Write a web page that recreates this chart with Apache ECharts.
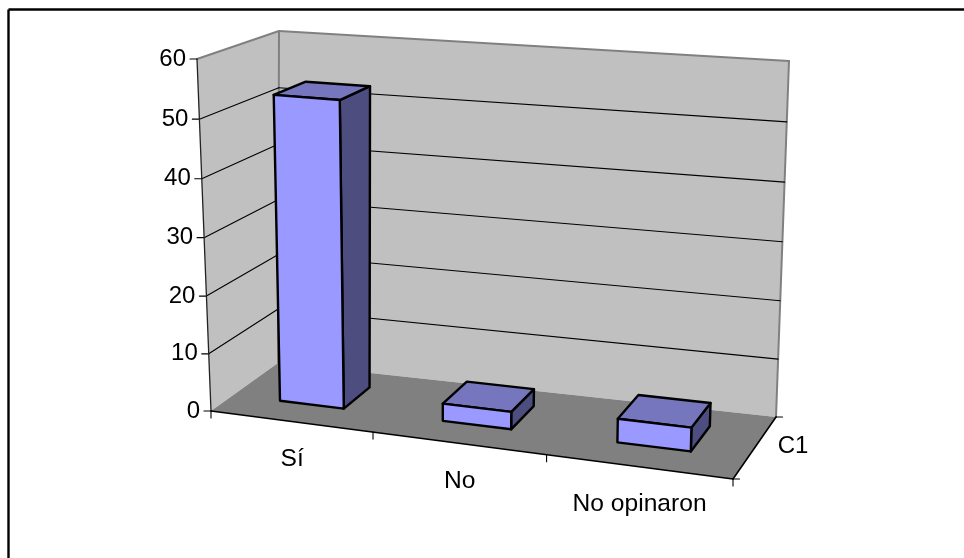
<!DOCTYPE html>
<html>
<head>
<meta charset="utf-8">
<style>html,body{margin:0;padding:0;background:#fff}#c{width:964px;height:558px}</style>
<script src="https://cdn.jsdelivr.net/npm/echarts@6/dist/echarts.min.js"></script>
</head>
<body>
<div id="c"></div>
<script>
const categories = ['Sí', 'No', 'No opinaron'];
const seriesName = 'C1';
const values = [53, 3, 4];
const valueTicks = [0, 10, 20, 30, 40, 50, 60];

// Box corners of the 3D scene: F/B = front/back, L/R = left/right, 0/1 = floor/ceiling
const box = {
  FL0: [211, 411], FR0: [733, 479], BL0: [278, 363], BR0: [776, 417],
  FL1: [197, 59],  FR1: [744, 102], BL1: [279, 31],  BR1: [789, 61]
};
const lerp = (a, b, t) => [a[0] + (b[0] - a[0]) * t, a[1] + (b[1] - a[1]) * t];
function project(u, d, h) {
  const f0 = lerp(box.FL0, box.FR0, u), b0 = lerp(box.BL0, box.BR0, u);
  const f1 = lerp(box.FL1, box.FR1, u), b1 = lerp(box.BL1, box.BR1, u);
  return lerp(lerp(f0, b0, d), lerp(f1, b1, d), h);
}
// Foreshortening along each of the three directions
const warpU = t => 0.9 * t / (1 - 0.1 * t);
const warpD = t => 1.28 * t / (1 + 0.28 * t);
const warpH = t => 0.97 * t / (1 - 0.03 * t);
function norm(params, pt) {
  const r = params.coordSys;
  return [(pt[0] - r.x) / r.width, (r.y + r.height - pt[1]) / r.height];
}
const FONT = { fontFamily: '"Liberation Sans", Arial, sans-serif', fontSize: 24, fill: '#000' };
const line = (a, b, stroke, lineWidth) => ({
  type: 'line',
  shape: { x1: a[0], y1: a[1], x2: b[0], y2: b[1] },
  style: { stroke, lineWidth, lineCap: 'round' }
});
const poly = (points, fill, stroke, lineWidth) => ({
  type: 'polygon', shape: { points },
  style: { fill, stroke: stroke || null, lineWidth: lineWidth || 0, lineJoin: 'round' }
});
const label = (text, x, y, align, fontSize) => ({
  type: 'text',
  style: Object.assign({ text, x, y, align, verticalAlign: 'middle' }, FONT, fontSize ? { fontSize } : {})
});

function renderWalls() {
  const c = box, G = '#808080';
  return {
    type: 'group',
    children: [
      poly([c.FL0, c.BL0, c.BL1, c.FL1], '#C0C0C0'),
      poly([c.BL0, c.BR0, c.BR1, c.BL1], '#C0C0C0'),
      poly([c.FL0, c.FR0, c.BR0, c.BL0], '#808080'),
      line(c.FL1, c.BL1, G, 2), line(c.BL1, c.BR1, G, 2),
      line(c.BL1, c.BL0, G, 2), line(c.BR1, c.BR0, G, 2)
    ]
  };
}
function renderValueTick(params, api) {
  const v = api.value(1);
  const h = warpH(norm(params, api.coord([0, v]))[1]);
  const a = project(0, 0, h), b = project(0, 1, h), e = project(1, 1, h);
  const children = [line([a[0] - 7, a[1]], a, '#000', 1.2), label(String(v), a[0] - 11, a[1], 'right')];
  if (v > 0 && v < 60) children.push(line(a, b, '#000', 1.1), line(b, e, '#000', 1.1));
  return { type: 'group', children };
}
function renderFrontEdges() {
  const c = box, T = 6.5;
  const children = [
    line(c.FL1, c.FL0, '#222', 1.3),
    line(c.FL0, c.FR0, '#000', 1.6),
    line(c.FR0, c.BR0, '#000', 1.6),
    line(c.FR0, [c.FR0[0] + T, c.FR0[1]], '#000', 1.2),
    line(c.BR0, [c.BR0[0] + T, c.BR0[1]], '#000', 1.2)
  ];
  return { type: 'group', children };
}
function renderCategoryTick(params, api) {
  const i = api.value(0), band = api.size([1, 0])[0];
  const center = norm(params, api.coord([i, 0]))[0];
  const w = band / params.coordSys.width;
  const a = project(warpU(center - w / 2), 0, 0);
  const mid = project(warpU(center), 0, 0);
  const children = [
    line(a, [a[0], a[1] + 7], '#000', 1.1),
    label(categories[i], mid[0] + 1.5, mid[1] + 38, 'center', 24.6)
  ];
  if (i === categories.length - 1) {
    const e = project(warpU(center + w / 2), 0, 0);
    children.push(line(e, [e[0], e[1] + 7], '#000', 1.1));
  }
  return { type: 'group', children };
}
function renderBar(params, api) {
  const i = api.value(0), v = api.value(1);
  const p = norm(params, api.coord([i, v]));
  const w = api.size([1, 0])[0] / params.coordSys.width * 0.4;
  const u0 = warpU(p[0] - w / 2), u1 = warpU(p[0] + w / 2);
  const d0 = warpD(0.28), d1 = warpD(0.7), h = warpH(p[1]);
  const A = project(u0, d0, 0), B = project(u1, d0, 0), C = project(u1, d1, 0);
  const E = project(u0, d0, h), F = project(u1, d0, h), G = project(u1, d1, h), H = project(u0, d1, h);
  return {
    type: 'group',
    children: [
      poly([B, C, G, F], '#4D4D80', '#000', 2.4),
      poly([E, F, G, H], '#7676BE', '#000', 2.4),
      poly([A, B, F, E], '#9999FF', '#000', 2.4)
    ]
  };
}
function renderDepthLabel() {
  const m = project(1, 0.5, 0);
  return label(seriesName, m[0] + 38.5, m[1] - 2, 'center');
}

const base = { type: 'custom', coordinateSystem: 'cartesian2d', silent: true, animation: false, clip: false };
const chart = echarts.init(document.getElementById('c'), null, { renderer: 'canvas' });
chart.setOption({
  animation: false,
  backgroundColor: '#fff',
  grid: { left: 100, top: 50, width: 700, height: 400, show: false },
  xAxis: { type: 'category', data: categories, show: false },
  yAxis: { type: 'value', min: 0, max: 60, interval: 10, show: false },
  graphic: [
    { type: 'line', shape: { x1: 8.5, y1: 9.5, x2: 964, y2: 9.5 }, style: { stroke: '#000', lineWidth: 2.4 } },
    { type: 'line', shape: { x1: 8.5, y1: 9.5, x2: 8.5, y2: 558 }, style: { stroke: '#000', lineWidth: 2.4 } }
  ],
  series: [
    Object.assign({}, base, { z: 1, data: [[0, 0]], renderItem: renderWalls }),
    Object.assign({}, base, { z: 2, data: valueTicks.map(v => [0, v]), renderItem: renderValueTick }),
    Object.assign({}, base, { z: 3, data: [[0, 0]], renderItem: renderFrontEdges }),
    Object.assign({}, base, { z: 3, data: categories.map((c, i) => [i, 0]), renderItem: renderCategoryTick }),
    Object.assign({}, base, { z: 4, name: seriesName, data: values.map((v, i) => [i, v]), renderItem: renderBar }),
    Object.assign({}, base, { z: 3, data: [[0, 0]], renderItem: renderDepthLabel })
  ]
});
</script>
</body>
</html>
